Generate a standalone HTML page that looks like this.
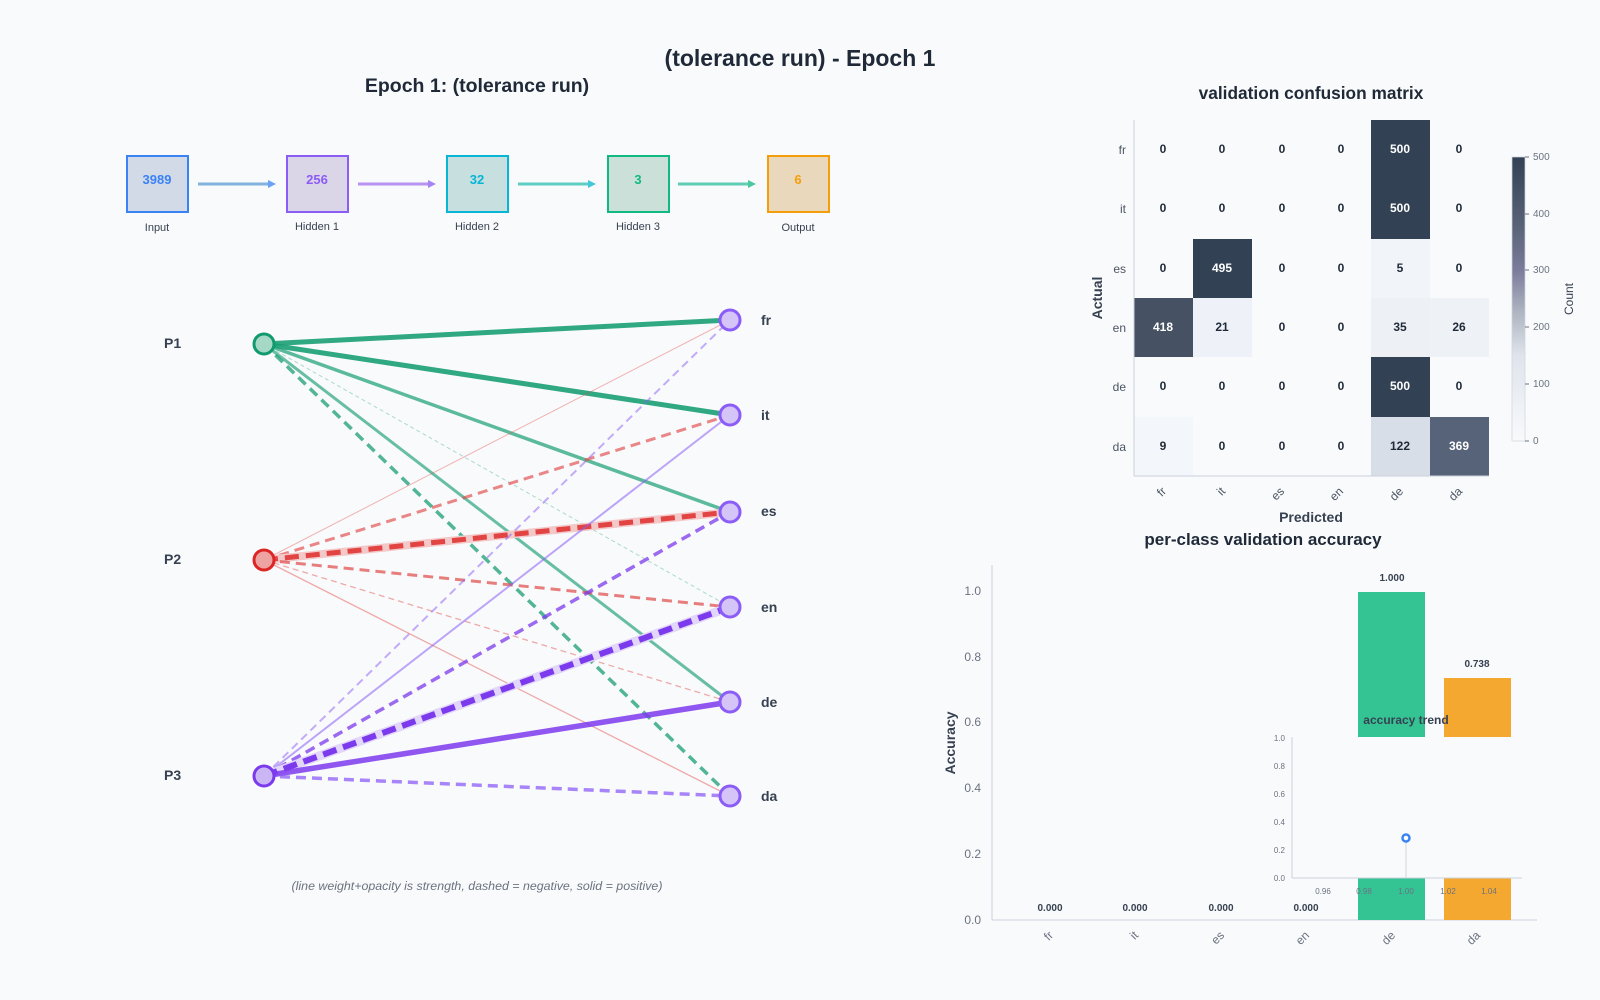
<!DOCTYPE html>
<html><head><meta charset="utf-8"><style>
html,body{margin:0;padding:0;background:#f9fafb}
svg{display:block;font-family:"Liberation Sans",sans-serif}
</style></head><body>
<svg width="1600" height="1000" viewBox="0 0 1600 1000">
<rect width="1600" height="1000" fill="#f9fafb"/>
<text x="800" y="66" text-anchor="middle" font-size="23" font-weight="bold" fill="#1f2937">(tolerance run) - Epoch 1</text>
<text x="477" y="92" text-anchor="middle" font-size="19.5" font-weight="bold" fill="#1f2937">Epoch 1: (tolerance run)</text>

<!-- layer boxes -->
<g font-size="13" font-weight="bold" text-anchor="middle">
<rect x="127" y="156" width="61" height="56" fill="#d1dae6" stroke="#3b82f6" stroke-width="2"/><text x="157" y="184" fill="#3b82f6">3989</text>
<rect x="287" y="156" width="61" height="56" fill="#dbd5e8" stroke="#8b5cf6" stroke-width="2"/><text x="317" y="184" fill="#8b5cf6">256</text>
<rect x="447" y="156" width="61" height="56" fill="#c8dfe0" stroke="#06b6d4" stroke-width="2"/><text x="477" y="184" fill="#06b6d4">32</text>
<rect x="608" y="156" width="61" height="56" fill="#cbe0d9" stroke="#10b981" stroke-width="2"/><text x="638" y="184" fill="#10b981">3</text>
<rect x="768" y="156" width="61" height="56" fill="#ead8bc" stroke="#f59e0b" stroke-width="2"/><text x="798" y="184" fill="#f59e0b">6</text>
</g>
<g font-size="11" fill="#374151" text-anchor="middle">
<text x="157" y="231">Input</text><text x="317" y="230">Hidden 1</text><text x="477" y="230">Hidden 2</text><text x="638" y="230">Hidden 3</text><text x="798" y="231">Output</text>
</g>
<g stroke-width="3" opacity="0.75">
<line x1="198" y1="184" x2="268" y2="184" stroke="#5b9bd5"/><polygon points="268,180 276,184 268,188" fill="#3b82f6"/>
<line x1="358" y1="184" x2="428" y2="184" stroke="#a070f0"/><polygon points="428,180 436,184 428,188" fill="#8b5cf6"/>
<line x1="518" y1="184" x2="588" y2="184" stroke="#2cc0b0"/><polygon points="588,180 596,184 588,188" fill="#06b6d4"/>
<line x1="678" y1="184" x2="748" y2="184" stroke="#2cc0a0"/><polygon points="748,180 756,184 748,188" fill="#10b981"/>
</g>

<!-- network edges -->
<g fill="none" stroke-linecap="butt">
<line x1="264" y1="344" x2="730" y2="320" stroke="#1a9e74" stroke-width="5" opacity="0.9"/>
<line x1="264" y1="344" x2="730" y2="415" stroke="#1a9e74" stroke-width="5" opacity="0.9"/>
<line x1="264" y1="344" x2="730" y2="512" stroke="#1a9e74" stroke-width="3.5" opacity="0.7"/>
<line x1="264" y1="344" x2="730" y2="607" stroke="#1a9e74" stroke-width="1" opacity="0.35" stroke-dasharray="4,3"/>
<line x1="264" y1="344" x2="730" y2="702" stroke="#1a9e74" stroke-width="3" opacity="0.65"/>
<line x1="264" y1="344" x2="730" y2="796" stroke="#1a9e74" stroke-width="3.5" opacity="0.75" stroke-dasharray="10,6"/>
<line x1="264" y1="560" x2="730" y2="320" stroke="#e04848" stroke-width="1" opacity="0.4"/>
<line x1="264" y1="560" x2="730" y2="415" stroke="#e04848" stroke-width="3" opacity="0.65" stroke-dasharray="10,6"/>
<line x1="264" y1="560" x2="730" y2="512" stroke="#f3c8c8" stroke-width="8"/>
<line x1="264" y1="560" x2="730" y2="512" stroke="#e03c3c" stroke-width="5" opacity="0.95" stroke-dasharray="14,7"/>
<line x1="264" y1="560" x2="730" y2="607" stroke="#e04848" stroke-width="3" opacity="0.7" stroke-dasharray="10,6"/>
<line x1="264" y1="560" x2="730" y2="702" stroke="#e04848" stroke-width="1.3" opacity="0.45" stroke-dasharray="6,4"/>
<line x1="264" y1="560" x2="730" y2="796" stroke="#e04848" stroke-width="1.3" opacity="0.45"/>
<line x1="264" y1="776" x2="730" y2="320" stroke="#8b5cf6" stroke-width="2" opacity="0.5" stroke-dasharray="8,5"/>
<line x1="264" y1="776" x2="730" y2="415" stroke="#8b5cf6" stroke-width="2" opacity="0.55"/>
<line x1="264" y1="776" x2="730" y2="512" stroke="#7c3aed" stroke-width="3.5" opacity="0.75" stroke-dasharray="10,6"/>
<line x1="264" y1="776" x2="730" y2="607" stroke="#e2d6fa" stroke-width="9"/>
<line x1="264" y1="776" x2="730" y2="607" stroke="#7c3aed" stroke-width="6" stroke-dasharray="14,7"/>
<line x1="264" y1="776" x2="730" y2="702" stroke="#7c3aed" stroke-width="5.5" opacity="0.85"/>
<line x1="264" y1="776" x2="730" y2="796" stroke="#8b5cf6" stroke-width="3.5" opacity="0.75" stroke-dasharray="10,6"/>
</g>
<g stroke-width="3">
<circle cx="264" cy="344" r="10" fill="#a6d8c6" stroke="#119a6e"/>
<circle cx="264" cy="560" r="10" fill="#eea3a3" stroke="#dc2626"/>
<circle cx="264" cy="776" r="10" fill="#cbb6f5" stroke="#7c3aed"/>
<circle cx="730" cy="320" r="10" fill="#d4c4f8" stroke="#8b5cf6"/>
<circle cx="730" cy="415" r="10" fill="#d4c4f8" stroke="#8b5cf6"/>
<circle cx="730" cy="512" r="10" fill="#d4c4f8" stroke="#8b5cf6"/>
<circle cx="730" cy="607" r="10" fill="#d4c4f8" stroke="#8b5cf6"/>
<circle cx="730" cy="702" r="10" fill="#d4c4f8" stroke="#8b5cf6"/>
<circle cx="730" cy="796" r="10" fill="#d4c4f8" stroke="#8b5cf6"/>
</g>
<g font-size="14" font-weight="bold" fill="#374151">
<text x="164" y="348">P1</text><text x="164" y="564">P2</text><text x="164" y="780">P3</text>
<text x="761" y="325">fr</text><text x="761" y="420">it</text><text x="761" y="516">es</text><text x="761" y="612">en</text><text x="761" y="707">de</text><text x="761" y="801">da</text>
</g>
<text x="477" y="890" text-anchor="middle" font-size="12.4" font-style="italic" fill="#6b7280">(line weight+opacity is strength, dashed = negative, solid = positive)</text>

<!-- confusion matrix -->
<text x="1311" y="99" text-anchor="middle" font-size="17.3" font-weight="bold" fill="#1f2937">validation confusion matrix</text>
<g>
<rect x="1134" y="120" width="355" height="356" fill="#f8fafc"/>
<rect x="1371" y="120" width="59" height="119" fill="#334155"/>
<rect x="1371" y="357" width="59" height="60" fill="#334155"/>
<rect x="1193" y="239" width="59" height="59" fill="#334155"/>
<rect x="1371" y="239" width="59" height="59" fill="#f1f5f9"/>
<rect x="1134" y="298" width="59" height="59" fill="#465264"/>
<rect x="1193" y="298" width="59" height="59" fill="#eef2f8"/>
<rect x="1371" y="298" width="59" height="59" fill="#edf1f6"/>
<rect x="1430" y="298" width="59" height="59" fill="#eef2f7"/>
<rect x="1134" y="417" width="59" height="59" fill="#f3f6fa"/>
<rect x="1371" y="417" width="59" height="59" fill="#d8dee8"/>
<rect x="1430" y="417" width="59" height="59" fill="#576378"/>
</g>
<line x1="1134" y1="120" x2="1134" y2="476" stroke="#cbd0dc"/><line x1="1134" y1="476" x2="1489" y2="476" stroke="#cbd0dc"/>
<g font-size="12" font-weight="bold" text-anchor="middle" fill="#1f2937">
<text x="1163" y="153">0</text><text x="1222" y="153">0</text><text x="1282" y="153">0</text><text x="1341" y="153">0</text><text x="1400" y="153" fill="#fff">500</text><text x="1459" y="153">0</text>
<text x="1163" y="212">0</text><text x="1222" y="212">0</text><text x="1282" y="212">0</text><text x="1341" y="212">0</text><text x="1400" y="212" fill="#fff">500</text><text x="1459" y="212">0</text>
<text x="1163" y="272">0</text><text x="1222" y="272" fill="#fff">495</text><text x="1282" y="272">0</text><text x="1341" y="272">0</text><text x="1400" y="272">5</text><text x="1459" y="272">0</text>
<text x="1163" y="331" fill="#fff">418</text><text x="1222" y="331">21</text><text x="1282" y="331">0</text><text x="1341" y="331">0</text><text x="1400" y="331">35</text><text x="1459" y="331">26</text>
<text x="1163" y="390">0</text><text x="1222" y="390">0</text><text x="1282" y="390">0</text><text x="1341" y="390">0</text><text x="1400" y="390" fill="#fff">500</text><text x="1459" y="390">0</text>
<text x="1163" y="450">9</text><text x="1222" y="450">0</text><text x="1282" y="450">0</text><text x="1341" y="450">0</text><text x="1400" y="450">122</text><text x="1459" y="450" fill="#fff">369</text>
</g>
<g font-size="12" fill="#4b5563" text-anchor="end">
<text x="1126" y="154">fr</text><text x="1126" y="213">it</text><text x="1126" y="273">es</text><text x="1126" y="332">en</text><text x="1126" y="391">de</text><text x="1126" y="451">da</text>
</g>
<g font-size="12" fill="#4b5563" text-anchor="end">
<text transform="translate(1167,492) rotate(-45)">fr</text><text transform="translate(1226,492) rotate(-45)">it</text><text transform="translate(1285,492) rotate(-45)">es</text><text transform="translate(1344,492) rotate(-45)">en</text><text transform="translate(1404,492) rotate(-45)">de</text><text transform="translate(1463,492) rotate(-45)">da</text>
</g>
<text x="1311" y="522" text-anchor="middle" font-size="14" font-weight="bold" fill="#374151">Predicted</text>
<text transform="translate(1102,298) rotate(-90)" text-anchor="middle" font-size="14" font-weight="bold" fill="#374151">Actual</text>
<defs><linearGradient id="cb" x1="0" y1="1" x2="0" y2="0">
<stop offset="0" stop-color="#f8fafc"/><stop offset="0.3" stop-color="#dfe4ec"/><stop offset="0.45" stop-color="#b0b6c2"/><stop offset="0.6" stop-color="#7c7c9c"/><stop offset="0.75" stop-color="#5a6478"/><stop offset="1" stop-color="#334155"/></linearGradient></defs>
<rect x="1512" y="157" width="13" height="284" fill="url(#cb)" stroke="#d1d5db" stroke-width="0.7"/>
<g stroke="#6b7280" stroke-width="1">
<line x1="1525" y1="157" x2="1529" y2="157"/><line x1="1525" y1="214" x2="1529" y2="214"/><line x1="1525" y1="270" x2="1529" y2="270"/><line x1="1525" y1="327" x2="1529" y2="327"/><line x1="1525" y1="384" x2="1529" y2="384"/><line x1="1525" y1="441" x2="1529" y2="441"/>
</g>
<g font-size="10" fill="#6b7280">
<text x="1533" y="160">500</text><text x="1533" y="217">400</text><text x="1533" y="273">300</text><text x="1533" y="330">200</text><text x="1533" y="387">100</text><text x="1533" y="444">0</text>
</g>
<text transform="translate(1573,299) rotate(-90)" text-anchor="middle" font-size="12" fill="#374151">Count</text>

<!-- bar chart -->
<text x="1263" y="545" text-anchor="middle" font-size="17" font-weight="bold" fill="#1f2937">per-class validation accuracy</text>
<line x1="992" y1="565" x2="992" y2="920" stroke="#cbd0dc"/><line x1="992" y1="920" x2="1537" y2="920" stroke="#cbd0dc"/>
<g font-size="12" fill="#6b7280" text-anchor="end">
<text x="981" y="595">1.0</text><text x="981" y="661">0.8</text><text x="981" y="726">0.6</text><text x="981" y="792">0.4</text><text x="981" y="858">0.2</text><text x="981" y="924">0.0</text>
</g>
<text transform="translate(955,743) rotate(-90)" text-anchor="middle" font-size="14" font-weight="bold" fill="#374151">Accuracy</text>
<rect x="1358" y="592" width="67" height="328" fill="#34c494"/>
<rect x="1444" y="678" width="67" height="242" fill="#f5a830"/>
<g font-size="10" font-weight="bold" fill="#374151" text-anchor="middle">
<text x="1392" y="581">1.000</text><text x="1477" y="667">0.738</text>
<text x="1050" y="911">0.000</text><text x="1135" y="911">0.000</text><text x="1221" y="911">0.000</text><text x="1306" y="911">0.000</text>
</g>
<g font-size="12" fill="#6b7280" text-anchor="end">
<text transform="translate(1054,936) rotate(-45)">fr</text><text transform="translate(1139,936) rotate(-45)">it</text><text transform="translate(1225,936) rotate(-45)">es</text><text transform="translate(1310,936) rotate(-45)">en</text><text transform="translate(1396,936) rotate(-45)">de</text><text transform="translate(1481,936) rotate(-45)">da</text>
</g>
<rect x="1292" y="737" width="230" height="141" fill="#f9fafb"/>
<line x1="1292" y1="737" x2="1292" y2="878" stroke="#cbd0dc"/><line x1="1292" y1="878" x2="1522" y2="878" stroke="#cbd0dc"/>
<text x="1406" y="724" text-anchor="middle" font-size="12" font-weight="bold" fill="#374151">accuracy trend</text>
<g font-size="8" fill="#6b7280" text-anchor="end">
<text x="1285" y="741">1.0</text><text x="1285" y="769">0.8</text><text x="1285" y="797">0.6</text><text x="1285" y="825">0.4</text><text x="1285" y="853">0.2</text><text x="1285" y="881">0.0</text>
</g>
<g font-size="8" fill="#6b7280" text-anchor="middle">
<text x="1323" y="894">0.96</text><text x="1364" y="894">0.98</text><text x="1406" y="894">1.00</text><text x="1448" y="894">1.02</text><text x="1489" y="894">1.04</text>
</g>
<line x1="1406" y1="838" x2="1406" y2="878" stroke="#d1d5db"/>
<circle cx="1406" cy="838" r="3.5" fill="#fff" stroke="#3b82f6" stroke-width="2.5"/>
</svg>
</body></html>
